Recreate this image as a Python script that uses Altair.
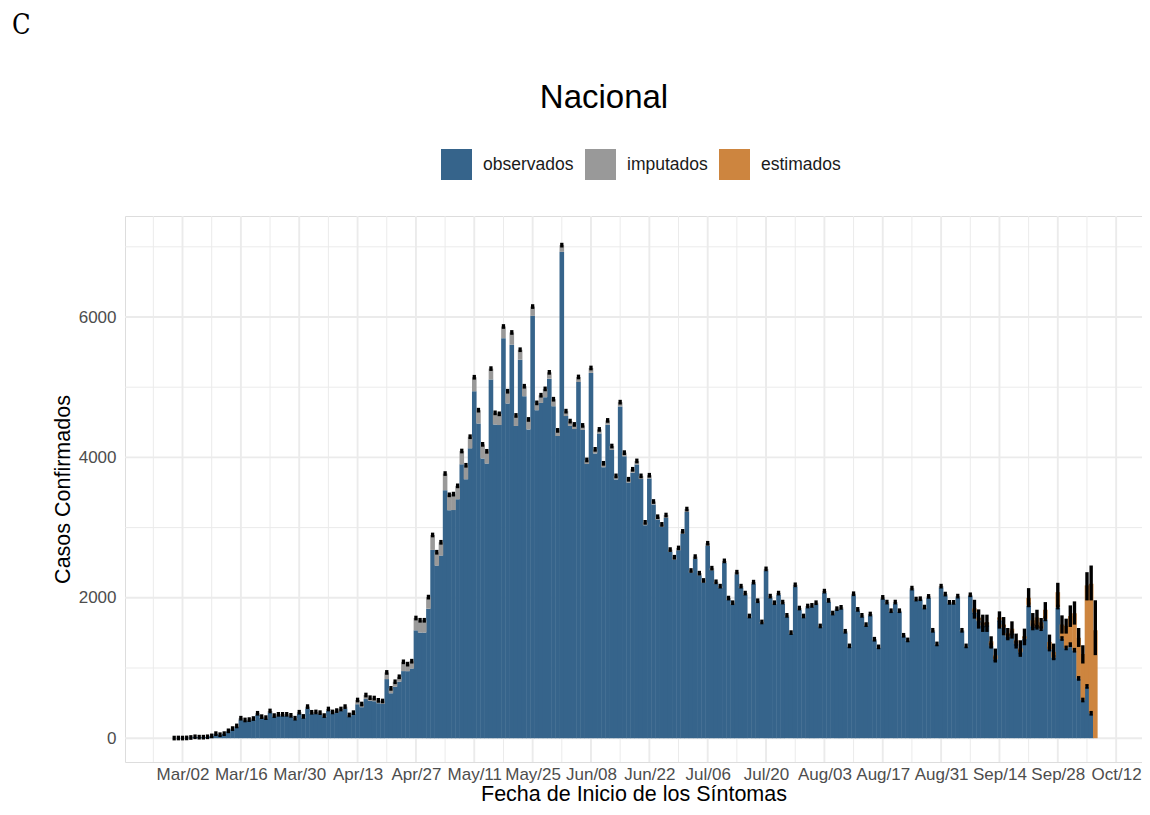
import altair as alt
import pandas as pd

# ---------------- data ----------------
inicio = "2020-02-29"
fin = "2020-10-07"

# top of (observados + imputados) for each day
tope_feb = [2]
tope_mar = [3, 2, 4, 10, 20, 15, 15, 20, 33, 65, 50, 65, 105, 137, 175, 285, 260, 265,
            280, 355, 307, 293, 388, 322, 340, 340, 340, 326, 285, 370, 310]
tope_abr = [450, 369, 374, 364, 322, 416, 374, 393, 416, 450, 331, 364, 544, 487, 615,
            577, 572, 539, 530, 937, 710, 804, 875, 1088, 1055, 1097, 1712, 1680, 1680, 2010]
tope_may = [2895, 2649, 2791, 3770, 3467, 3477, 3595, 4091, 3888, 4295, 5142, 4673, 4186,
            4087, 5265, 4635, 4621, 5865, 4943, 5780, 4598, 5534, 5014, 4541, 6149, 4777,
            4886, 4976, 5212, 4829, 4385]
tope_jun = [7024, 4659, 4517, 4470, 5146, 4456, 3964, 5274, 4115, 4399, 3916, 4527, 4162,
            3737, 4787, 4068, 3689, 3831, 3950, 3737, 3075, 3746, 3372, 3155, 3046, 3179,
            2687, 2578, 2710, 2947]
tope_jul = [3264, 2389, 2587, 2351, 2247, 2777, 2422, 2228, 2166, 2526, 1996, 1930, 2365,
            2166, 2067, 1741, 2223, 1958, 1656, 2412, 2024, 1930, 2067, 1939, 1750, 1504,
            2185, 1854, 1741, 1883, 1892]
tope_ago = [1930, 1599, 2095, 1963, 1783, 1845, 1864, 1523, 1315, 2058, 1835, 1750, 1618,
            1769, 1410, 1301, 2006, 1939, 1816, 1939, 1816, 1466, 1400, 2138, 1982, 1987,
            1868, 2020, 1537, 1343, 2166]
tope_sep = [2053, 1935, 1935, 2024, 1537, 1315, 2043, 1800, 1680, 1610, 1620, 1320, 1130,
            1690, 1580, 1450, 1500, 1350, 1230, 1420, 1900, 1600, 1580, 1560, 1700, 1270,
            1150, 1868, 1420, 1286]
tope_oct = [1333, 1253, 852, 544, 738, 355, 0]

# imputados (grey part) for each day
imp_feb = [0]
imp_mar = [0, 0, 0, 1, 2, 1, 1, 2, 3, 5, 4, 5, 8, 10, 12, 18, 16, 16, 17, 22, 19, 18, 24,
           20, 21, 21, 21, 20, 18, 23, 20]
imp_abr = [25, 22, 22, 22, 20, 25, 22, 24, 25, 27, 20, 22, 60, 45, 57, 45, 45, 40, 40, 95,
           70, 70, 70, 132, 100, 104, 175, 175, 175, 165]
imp_may = [213, 190, 190, 237, 218, 227, 190, 190, 200, 166, 200, 190, 200, 175, 156, 166,
           160, 166, 175, 175, 150, 142, 142, 142, 132, 104, 109, 118, 90, 100, 80]
imp_jun = [95, 70, 68, 66, 72, 64, 58, 70, 58, 60, 55, 60, 55, 50, 60, 52, 48, 48, 50, 46,
           40, 46, 42, 40, 38, 40, 34, 32, 33, 35]
imp_jul = [38, 30, 32, 29, 28, 33, 29, 27, 26, 30, 24, 23, 28, 26, 25, 21, 26, 23, 20, 28,
           24, 22, 24, 22, 20, 17, 24, 21, 20, 21, 21]
imp_ago = [21, 18, 22, 21, 19, 20, 20, 16, 14, 21, 19, 18, 17, 18, 15, 13, 20, 19, 18, 19,
           18, 15, 14, 21, 19, 19, 18, 19, 15, 13, 20]
imp_sep = [18, 17, 17, 17, 13, 11, 16, 14, 13, 12, 12, 10, 9, 12, 11, 10, 10, 9, 8, 9, 12,
           10, 10, 9, 10, 7, 6, 10, 7, 6]
imp_oct = [6, 5, 4, 3, 3, 2, 0]

# estimados (orange part) and their interval, from 2020-09-08 to 2020-10-07
est_inicio = "2020-09-08"
est_valores = [50, 40, 40, 30, 60, 50, 30, 40, 50, 60, 50, 50, 30, 100, 80, 140, 90, 130,
               100, 80, 212, 200, 314, 407, 527, 578, 656, 1439, 1845, 1538]
err_inf = [1703, 1561, 1514, 1514, 1277, 1078, 1561, 1466, 1395, 1419, 1277, 1159, 1324,
           1868, 1537, 1570, 1561, 1703, 1253, 1111, 1868, 1490, 1490, 1585, 1618, 1300,
           1064, 1963, 1963, 1183]
err_sup = [1972, 1835, 1760, 1760, 1452, 1277, 1807, 1726, 1570, 1665, 1490, 1395, 1561,
           2138, 1783, 1830, 1712, 1939, 1476, 1348, 2214, 1750, 1703, 1892, 1949, 1570,
           1324, 2365, 2460, 1965]

categorias = ["observados", "imputados", "estimados"]
colores = ["#36648B", "#999999", "#CD853F"]

marcas_mayores = ["2020-03-02", "2020-03-16", "2020-03-30", "2020-04-13", "2020-04-27",
                  "2020-05-11", "2020-05-25", "2020-06-08", "2020-06-22", "2020-07-06",
                  "2020-07-20", "2020-08-03", "2020-08-17", "2020-08-31", "2020-09-14",
                  "2020-09-28", "2020-10-12"]
marcas_menores = ["2020-02-24", "2020-03-09", "2020-03-23", "2020-04-06", "2020-04-20",
                  "2020-05-04", "2020-05-18", "2020-06-01", "2020-06-15", "2020-06-29",
                  "2020-07-13", "2020-07-27", "2020-08-10", "2020-08-24", "2020-09-07",
                  "2020-09-21", "2020-10-05"]
y_mayores = [0, 2000, 4000, 6000]
y_menores = [1000, 3000, 5000, 7000]

titulo = "Nacional"
etiqueta_panel = "C"

# ---------------- tables ----------------
fechas = pd.date_range(inicio, fin, freq="D").strftime("%Y-%m-%d").tolist()
tope = tope_feb + tope_mar + tope_abr + tope_may + tope_jun + tope_jul + tope_ago + tope_sep + tope_oct
imputados = imp_feb + imp_mar + imp_abr + imp_may + imp_jun + imp_jul + imp_ago + imp_sep + imp_oct
observados = [t - i for t, i in zip(tope, imputados)]
fechas_est = pd.date_range(est_inicio, fin, freq="D").strftime("%Y-%m-%d").tolist()
est_map = dict(zip(fechas_est, est_valores))
estimados = [est_map.get(f, 0) for f in fechas]

filas = []
for orden, (tipo, serie) in enumerate(zip(categorias, [observados, imputados, estimados])):
    for f, v in zip(fechas, serie):
        filas.append({"fecha": f, "tipo": tipo, "valor": v, "orden": orden})
df_barras = pd.DataFrame(filas)

df_puntos = pd.DataFrame({"fecha": fechas, "valor": tope})
df_puntos = df_puntos[df_puntos["valor"] > 0]
df_err = pd.DataFrame({"fecha": fechas_est, "valor": err_inf, "valor2": err_sup})

# ---------------- scales / axes ----------------
def dt(s, h=0, m=0):
    d = pd.Timestamp(s)
    return alt.DateTime(year=d.year, month=d.month, date=d.day, hours=h, minutes=m, utc=True)

xscale = alt.Scale(type="utc", domain=[dt("2020-02-18", 9, 36), dt("2020-10-17", 0, 0)])
yscale = alt.Scale(domain=[-339, 7439], nice=False, zero=False)

xaxis = alt.Axis(values=[dt(s) for s in marcas_mayores], format="%b/%d", grid=False,
                 domain=False, ticks=False, tickSize=0, labelFontSize=17, labelColor="#4D4D4D",
                 labelPadding=4, labelFont="Liberation Sans", titleFont="Liberation Sans",
                 titleFontSize=21.5, titleFontWeight="normal", titleColor="#000000",
                 titlePadding=1, labelOverlap=False, labelFlush=False)
yaxis = alt.Axis(values=y_mayores, format="d", grid=False, domain=False, ticks=False,
                 tickSize=0, labelFontSize=17, labelColor="#4D4D4D", labelPadding=9,
                 labelFont="Liberation Sans", titleFont="Liberation Sans",
                 titleFontSize=21.5, titleFontWeight="normal", titleColor="#000000",
                 titlePadding=4)

X = alt.X("fecha:T", scale=xscale, axis=xaxis, title="Fecha de Inicio de los Síntomas")
Y = alt.Y("valor:Q", scale=yscale, axis=yaxis, title="Casos Confirmados")

grid_xM = alt.Chart(pd.DataFrame({"fecha": marcas_mayores})).mark_rule(
    color="#EBEBEB", strokeWidth=1.9).encode(x=X)
grid_xm = alt.Chart(pd.DataFrame({"fecha": marcas_menores})).mark_rule(
    color="#EBEBEB", strokeWidth=1.0).encode(x=X)
grid_yM = alt.Chart(pd.DataFrame({"valor": y_mayores})).mark_rule(
    color="#EBEBEB", strokeWidth=1.9).encode(y=Y)
grid_ym = alt.Chart(pd.DataFrame({"valor": y_menores})).mark_rule(
    color="#EBEBEB", strokeWidth=1.0).encode(y=Y)

barras = alt.Chart(df_barras).mark_bar(width=4.6).encode(
    x=X,
    y=alt.Y("valor:Q", scale=yscale, axis=yaxis, title="Casos Confirmados", stack="zero"),
    color=alt.Color("tipo:N", scale=alt.Scale(domain=categorias, range=colores),
                    legend=alt.Legend(orient="none", legendX=316, legendY=-67,
                                      direction="horizontal", title=None,
                                      symbolType="square", symbolSize=961,
                                      symbolStrokeWidth=0, symbolOpacity=1,
                                      labelFontSize=17.5, labelFont="Liberation Sans",
                                      labelColor="#1A1A1A", labelOffset=11,
                                      columnPadding=11, padding=0)),
    order=alt.Order("orden:Q", sort="ascending"),
)

errores = alt.Chart(df_err).mark_rule(color="black", strokeWidth=3.4).encode(
    x=X, y=Y, y2="valor2:Q")

puntos = alt.Chart(df_puntos).mark_point(
    shape="M-0.7,-1L0.7,-1L0.7,1L-0.7,1Z", size=22, filled=True, color="black",
    opacity=1, strokeWidth=0).encode(x=X, y=Y)

letra = alt.Chart(pd.DataFrame({"t": [etiqueta_panel]})).mark_text(
    font="DejaVu Serif Condensed, Liberation Serif", fontSize=27, align="left",
    baseline="middle", color="black").encode(x=alt.value(-113), y=alt.value(-190), text="t:N")

texto_titulo = alt.Chart(pd.DataFrame({"t": [titulo]})).mark_text(
    font="Liberation Sans", fontSize=33, align="center", baseline="alphabetic",
    color="black").encode(x=alt.value(479), y=alt.value(-108), text="t:N")

chart = alt.layer(grid_xm, grid_xM, grid_ym, grid_yM, barras, errores, puntos,
                  letra, texto_titulo).properties(
    width=1017, height=546,
    padding={"left": 117, "top": 208, "right": 0, "bottom": 45},
    autosize=alt.AutoSizeParams(type="none"),
).configure_view(stroke=None).configure(background="white")

chart.save("out.html", embed_options={"renderer": "svg", "actions": False})
